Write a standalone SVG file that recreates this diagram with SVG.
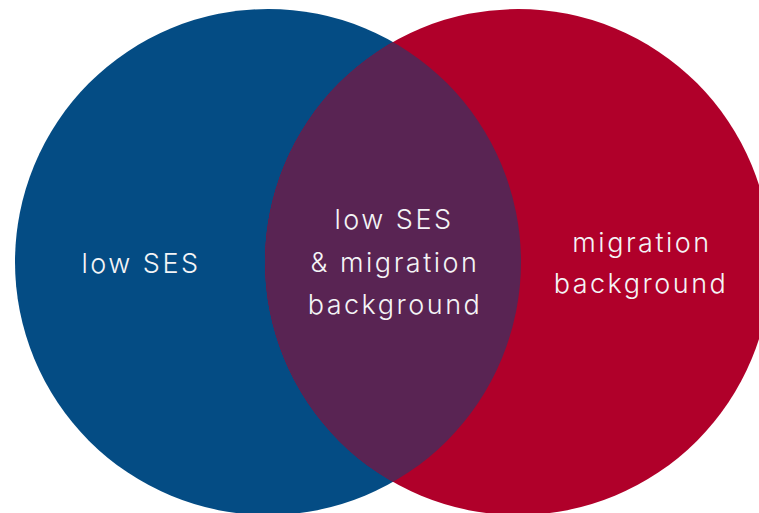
<svg xmlns="http://www.w3.org/2000/svg" width="759" height="513" viewBox="0 0 759 513">
<style>
.lbl{font-family:Inter,"Liberation Sans",sans-serif;font-size:27px;font-weight:300;letter-spacing:2.5px;fill:#f4f4f6;text-anchor:middle;font-variant-ligatures:none}
</style>
<defs>
<clipPath id="clipBlue"><circle cx="268" cy="262" r="253"/></clipPath>
</defs>
<rect width="759" height="513" fill="#ffffff"/>
<g id="node-low-ses">
<circle cx="268" cy="262" r="253" fill="#044c84"/>
<text class="lbl" x="141" y="273">low SES</text>
</g>
<g id="node-migration">
<circle cx="518" cy="262" r="253" fill="#b0002a"/>
<text class="lbl" x="642" y="252">migration</text>
<text class="lbl" x="641" y="293">background</text>
</g>
<g id="node-overlap">
<circle cx="518" cy="262" r="253" fill="#592453" clip-path="url(#clipBlue)"/>
<text class="lbl" x="394" y="229">low SES</text>
<text class="lbl" x="395" y="272">&amp; migration</text>
<text class="lbl" x="395" y="314">background</text>
</g>
<g id="connectors"/>
</svg>
